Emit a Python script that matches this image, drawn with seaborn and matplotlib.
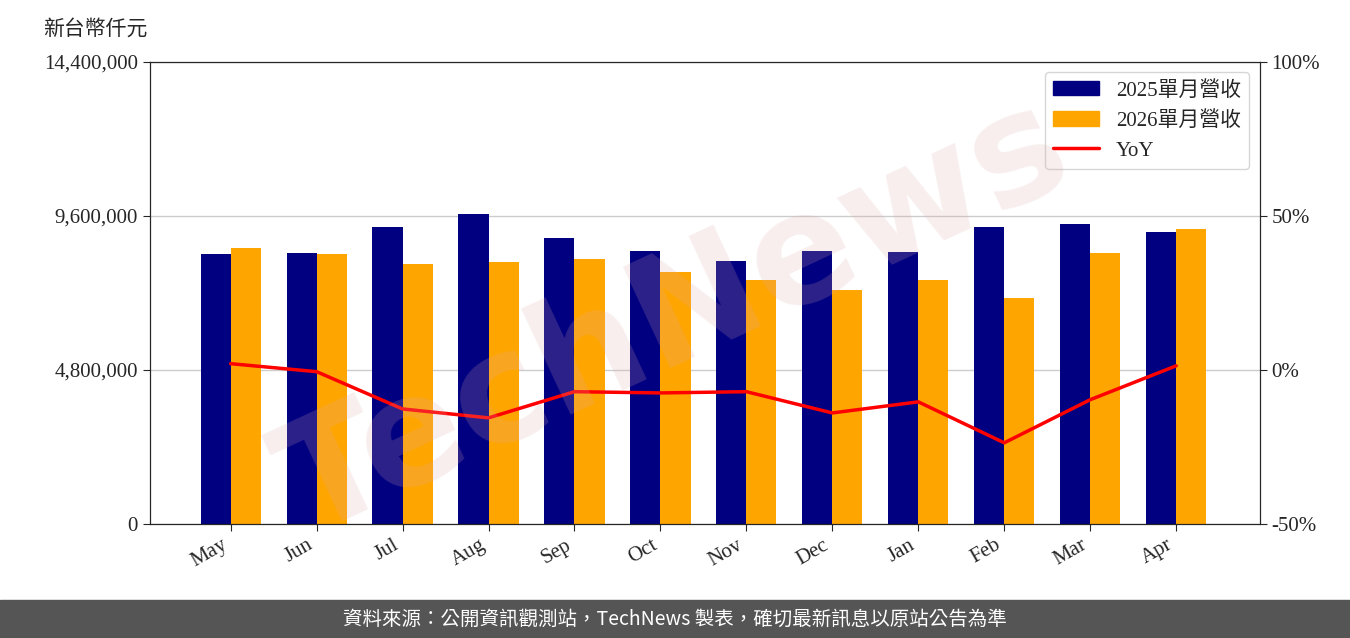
import numpy as np
import pandas as pd
import matplotlib
matplotlib.use("Agg")
import matplotlib.pyplot as plt
import seaborn as sns
from matplotlib.ticker import FuncFormatter
from matplotlib.patches import Patch
from matplotlib.lines import Line2D

sns.set_style("white")
plt.rcParams['font.family'] = ['Liberation Serif', 'Noto Sans CJK TC', 'DejaVu Sans']

months = ['May', 'Jun', 'Jul', 'Aug', 'Sep', 'Oct', 'Nov', 'Dec', 'Jan', 'Feb', 'Mar', 'Apr']
rev_2025 = [8420000, 8450000, 9260000, 9660000, 8910000, 8510000, 8200000, 8510000, 8480000, 9260000, 9350000, 9100000]
rev_2026 = [8600000, 8420000, 8100000, 8170000, 8260000, 7850000, 7610000, 7290000, 7610000, 7040000, 8450000, 9190000]
yoy = [2.0, -0.6, -12.7, -15.6, -7.1, -7.5, -7.1, -14.0, -10.4, -23.7, -9.7, 1.3]

df = pd.DataFrame({
    'month': months * 2,
    'rev': rev_2025 + rev_2026,
    'series': ['2025單月營收'] * 12 + ['2026單月營收'] * 12,
})

fig = plt.figure(figsize=(13.5, 6.38), dpi=100)
ax = fig.add_axes([0.111, 0.179, 0.822, 0.724])

sns.barplot(data=df, x='month', y='rev', hue='series', order=months,
            palette=['#000080', '#FFA500'], width=0.7, saturation=1, ax=ax,
            legend=False, linewidth=0)
ax.set_ylim(0, 14400000)
ax.set_yticks([0, 4800000, 9600000, 14400000])
ax.yaxis.set_major_formatter(FuncFormatter(lambda v, p: f'{int(v):,}'))
ax.set_xlim(-0.94, 11.97)
ax.grid(axis='y', color='#cccccc', lw=1)
ax.set_axisbelow(True)
ax.set_xlabel('')
ax.set_ylabel('')
ax.tick_params(axis='both', labelsize=15, length=5, direction='out', bottom=True, left=True)
plt.setp(ax.get_xticklabels(), rotation=30, ha='right')
for s in ax.spines.values():
    s.set_color('black')

ax2 = ax.twinx()
sns.lineplot(x=np.arange(12), y=yoy, color='red', lw=2.5, ax=ax2)
ax2.set_ylim(-50, 100)
ax2.set_yticks([-50, 0, 50, 100])
ax2.yaxis.set_major_formatter(FuncFormatter(lambda v, p: f'{int(v)}%'))
ax2.tick_params(axis='y', labelsize=15, length=5, right=True)
ax2.set_xlim(-0.94, 11.97)

handles = [Patch(color='#000080'), Patch(color='#FFA500'), Line2D([], [], color='red', lw=2.5)]
ax2.legend(handles, ['2025單月營收', '2026單月營收', 'YoY'], loc='upper right',
           fontsize=15, frameon=True, edgecolor='#cccccc', handlelength=2.2)

fig.text(0.032, 0.945, '新台幣仟元', fontsize=15, family=['Noto Sans CJK TC'])
fig.text(0.5, 0.5, 'TechNews', fontsize=110, color='#ddaaaa', alpha=0.2, rotation=25,
         ha='center', va='center', family='DejaVu Sans', fontweight='bold', zorder=0)

fig.patches.append(plt.Rectangle((0, 0), 1, 0.06, transform=fig.transFigure, color='#555555', zorder=-1))
fig.text(0.5, 0.03, '資料來源：公開資訊觀測站，TechNews 製表，確切最新訊息以原站公告為準',
         color='white', fontsize=14, ha='center', va='center', family=['Noto Sans CJK TC'])

fig.savefig('out.png', dpi=100)
